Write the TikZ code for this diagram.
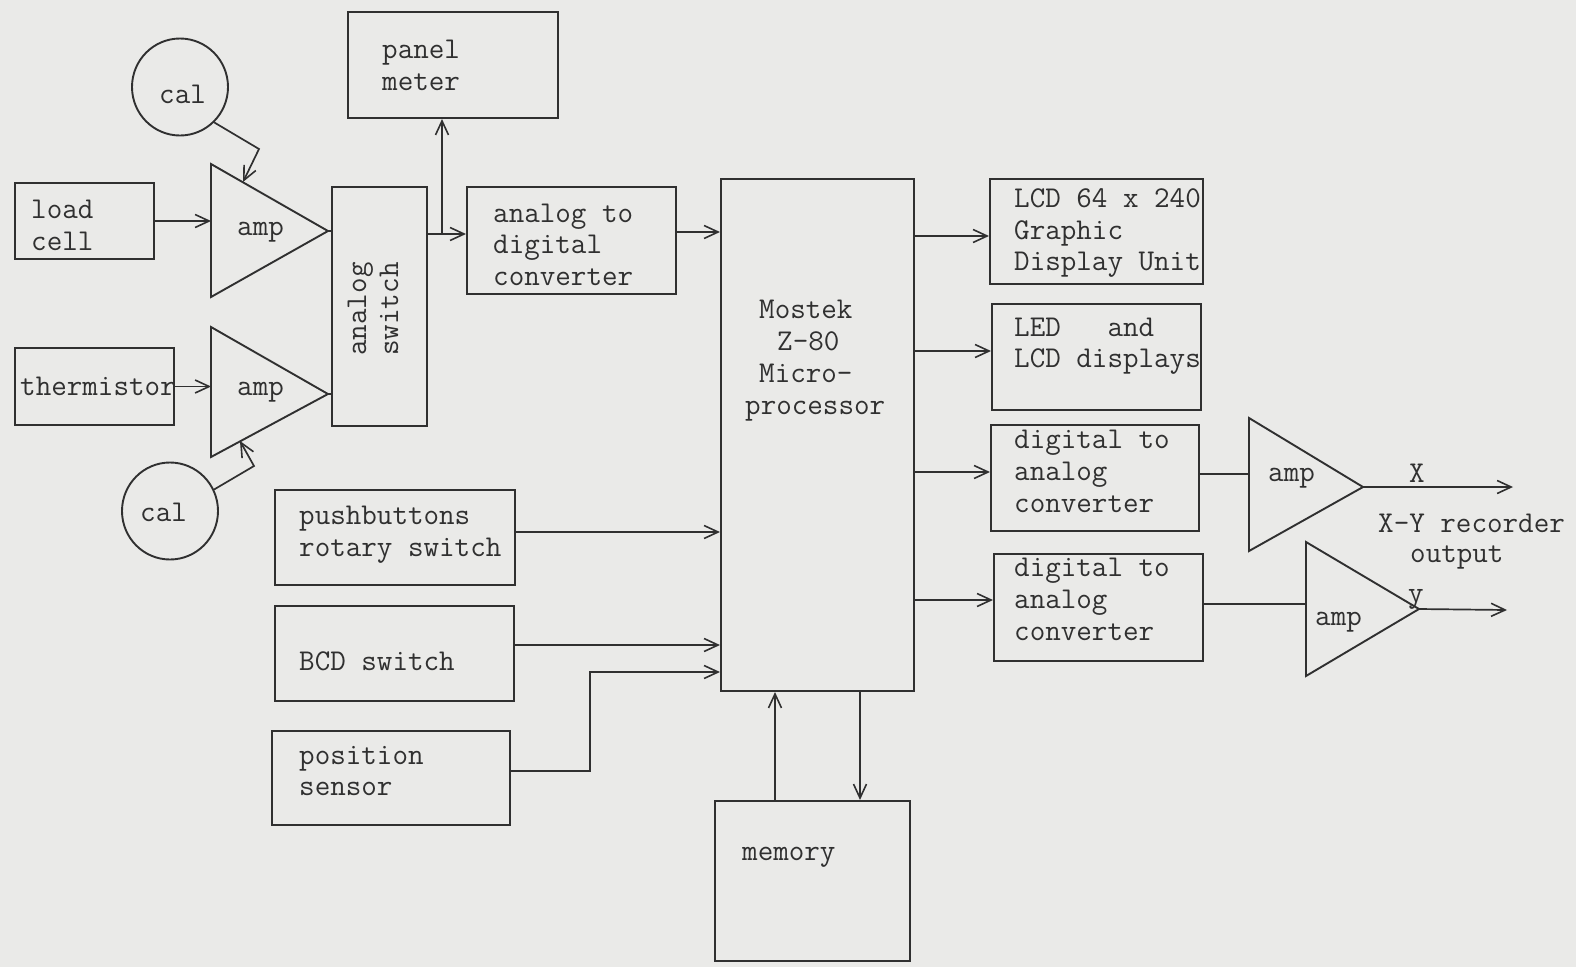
\documentclass[tikz,border=0pt]{standalone}
\usepackage{fontspec}
\usetikzlibrary{arrows.meta,shapes.geometric,fit}
\definecolor{paper}{RGB}{234,234,232}
\definecolor{ink}{RGB}{48,48,48}
\begin{document}
\begin{tikzpicture}[x=1pt,y=-1pt,
  box/.style={draw=ink, line width=2.1pt, inner sep=0pt},
  txt/.style={text=ink, font=\ttfamily\fontsize{30.2}{32}\selectfont\addfontfeatures{FakeBold=0.5}, inner sep=0pt, anchor=base west},
  wire/.style={draw=ink, line width=1.7pt},
  arr/.style={draw=ink, line width=1.7pt, -{Straight Barb[length=14pt,width=13pt,line width=1.6pt]}},
  ampshape/.style={draw=ink, line width=1.9pt, line join=miter},
  calcircle/.style={draw=ink, line width=1.9pt, ellipse, minimum width=96pt, minimum height=97pt, inner sep=0pt}
]
\fill[paper] (0,0) rectangle (1576,967);
\useasboundingbox (0,0) rectangle (1576,967);

% ---------- boxes ----------
\node[box, fit={(348,12) (558,118)}] (panel) {};
\node[box, fit={(15,183) (154,259)}] (load) {};
\node[box, fit={(15,348) (174,425)}] (therm) {};
\node[box, fit={(332,187) (427,426)}] (sw) {};
\node[box, fit={(467,187) (676,294)}] (adc) {};
\node[box, fit={(275,490) (515,585)}] (push) {};
\node[box, fit={(275,606) (514,701)}] (bcd) {};
\node[box, fit={(272,731) (510,825)}] (pos) {};
\node[box, fit={(721,179) (914,691)}] (mpu) {};
\node[box, fit={(715,801) (910,961)}] (mem) {};
\node[box, fit={(990,179) (1203,284)}] (lcd) {};
\node[box, fit={(992,304) (1201,410)}] (led) {};
\node[box, fit={(991,425) (1199,531)}] (dac1) {};
\node[box, fit={(994,554) (1203,661)}] (dac2) {};

% ---------- calibration circles ----------
\node[calcircle] (cal1) at (180,87) {};
\node[calcircle] (cal2) at (170,511) {};

% ---------- amplifiers ----------
\coordinate (a1t) at (211,164); \coordinate (a1b) at (211,297); \coordinate (a1o) at (328,231);
\coordinate (a2t) at (211,327); \coordinate (a2b) at (211,457); \coordinate (a2o) at (328,394);
\coordinate (a3t) at (1249,418); \coordinate (a3b) at (1249,551); \coordinate (a3o) at (1363,487);
\coordinate (a4t) at (1306,542); \coordinate (a4b) at (1306,676); \coordinate (a4o) at (1419,609);
\draw[ampshape] (a1t) -- (a1b) -- (a1o) -- cycle;
\draw[ampshape] (a2t) -- (a2b) -- (a2o) -- cycle;
\draw[ampshape] (a3t) -- (a3b) -- (a3o) -- cycle;
\draw[ampshape] (a4t) -- (a4b) -- (a4o) -- cycle;

% ---------- texts ----------
\node[txt] (tpanel1) at (382,58) {panel};
\node[txt] (tpanel2) at (382,90) {meter};
\node[txt] (tcal1) at (159,103) {cal};
\node[txt] (tcal2) at (140,521) {cal};
\node[txt] (tload1) at (31,218) {load};
\node[txt] (tload2) at (31,250) {cell};
\node[txt] (ttherm) at (20,395) {thermistor};
\node[txt] (tamp1) at (237,235) {amp};
\node[txt] (tamp2) at (237,395) {amp};
\node[txt, rotate=90, anchor=base] (tsw1) at (366,309) {analog};
\node[txt, rotate=90, anchor=base] (tsw2) at (398,309) {switch};
\node[txt] (tadc1) at (493,222) {analog to};
\node[txt] (tadc2) at (493,253) {digital};
\node[txt] (tadc3) at (493,285) {converter};
\node[txt] (tpush1) at (299,524) {pushbuttons};
\node[txt] (tpush2) at (299,556) {rotary switch};
\node[txt] (tbcd) at (299,670) {BCD switch};
\node[txt] (tpos1) at (299,764) {position};
\node[txt] (tpos2) at (299,795) {sensor};
\node[txt] (tmpu1) at (759,318) {Mostek};
\node[txt] (tmpu2) at (777,350) {Z-80};
\node[txt] (tmpu3) at (759,382) {Micro-};
\node[txt] (tmpu4) at (745,414) {processor};
\node[txt] (tmem) at (742,860) {memory};
\node[txt] (tlcd1) at (1014,207) {LCD 64 x 240};
\node[txt] (tlcd2) at (1014,239) {Graphic};
\node[txt] (tlcd3) at (1014,270) {Display Unit};
\node[txt] (tled1) at (1014,336) {LED\ \ \ and};
\node[txt] (tled2) at (1014,367) {LCD displays};
\node[txt] (tdaa1) at (1014,448) {digital to};
\node[txt] (tdaa2) at (1014,480) {analog};
\node[txt] (tdaa3) at (1014,512) {converter};
\node[txt] (tdab1) at (1014,576) {digital to};
\node[txt] (tdab2) at (1014,608) {analog};
\node[txt] (tdab3) at (1014,640) {converter};
\node[txt] (tamp3) at (1268,481) {amp};
\node[txt] (tamp4) at (1315,625) {amp};
\node[txt] (tX) at (1409,482) {X};
\node[txt] (tY) at (1408,602) {y};
\node[txt] (txy1) at (1378,532) {X-Y recorder};
\node[txt] (txy2) at (1410,562) {output};

% ---------- helper coordinates ----------
\coordinate (br) at (442,234);
\coordinate (yadc) at (0,232);
\coordinate (ylcd) at (0,236);
\coordinate (yled) at (0,351);
\coordinate (yd1) at (0,472);
\coordinate (yd2) at (0,600);
\coordinate (yx) at (0,474);
\coordinate (yy) at (0,604);
\coordinate (ypush) at (0,532);
\coordinate (ybcd) at (0,645);
\coordinate (ypos) at (0,771);
\coordinate (bend) at (590,672);
\coordinate (xup) at (775,0);
\coordinate (xdn) at (860,0);
\coordinate (xout) at (1513,487);
\coordinate (yout) at (1507,610);
\coordinate (c1a) at (259,149);
\coordinate (c1b) at (243,182);
\coordinate (c2a) at (254,466);
\coordinate (c2b) at (240,441);

% ---------- connectors ----------
\draw[arr] (cal1.-46) -- (c1a) -- (c1b);
\draw[arr] (cal2.26) -- (c2a) -- (c2b);
\draw[arr] (load.east) -- (load.east -| a1t);
\draw[arr] (therm.east) -- (therm.east -| a2t);
\draw[wire] (a1o) -- (a1o -| sw.west);
\draw[wire] (a2o) -- (a2o -| sw.west);
\draw[arr] (sw.east |- br) -- (br -| adc.west);
\draw[arr] (br) -- (br |- panel.south);
\draw[arr] (adc.east |- yadc) -- (mpu.west |- yadc);
\draw[arr] (push.east |- ypush) -- (mpu.west |- ypush);
\draw[arr] (bcd.east |- ybcd) -- (mpu.west |- ybcd);
\draw[arr] (pos.east |- ypos) -- (bend |- ypos) -- (bend) -- (mpu.west |- bend);
\draw[arr] (mem.north -| xup) -- (mpu.south -| xup);
\draw[arr] (mpu.south -| xdn) -- (mem.north -| xdn);
\draw[arr] (mpu.east |- ylcd) -- (lcd.west |- ylcd);
\draw[arr] (mpu.east |- yled) -- (led.west |- yled);
\draw[arr] (mpu.east |- yd1) -- (dac1.west |- yd1);
\draw[arr] (mpu.east |- yd2) -- (dac2.west |- yd2);
\draw[wire] (dac1.east |- yx) -- (a3t |- yx);
\draw[wire] (dac2.east |- yy) -- (a4t |- yy);
\draw[arr] (a3o) -- (xout);
\draw[arr] (a4o) -- (yout);
\end{tikzpicture}
\end{document}
